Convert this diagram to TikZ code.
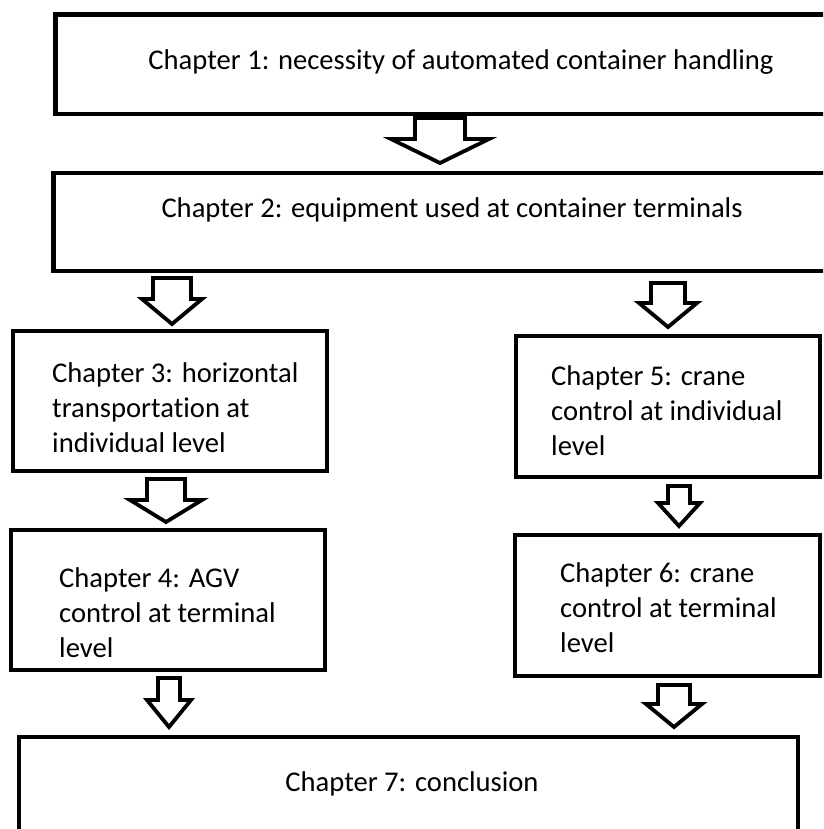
\documentclass[tikz,border=0pt]{standalone}
\usepackage{fontspec}
\setmainfont[Ligatures={NoCommon}]{Carlito}
\begin{document}
\begin{tikzpicture}[x=1pt,y=-1pt,
  box/.style={draw=black, line width=4.5pt, fill=none},
  arrowline/.style={draw=black, line width=3.8pt, line join=miter, fill=white},
  txt/.style={inner sep=0pt, font=\fontsize{28.6}{35}\selectfont},
  pics/barrow/.style args={#1/#2/#3/#4}{code={
    \draw[arrowline] (-#1,0) -- (-#1,#3) -- (-#2,#3) -- (0,#4) -- (#2,#3) -- (#1,#3) -- (#1,0) -- cycle;}}
]
\useasboundingbox (0,0) rectangle (823,829);
\clip (0,0) rectangle (823,829);
\fill[white] (0,0) rectangle (823,829);

% boxes
\draw[box] (55.5,14.5) rectangle (900,114) coordinate (b1);
\draw[box] (53.5,173) rectangle (900,271) coordinate (b2);
\draw[box] (13,331) rectangle (327,471) coordinate (b3);
\draw[box] (516,336) rectangle (820,477) coordinate (b5);
\draw[box] (11,530) rectangle (325,670) coordinate (b4);
\draw[box] (515,535) rectangle (820,676) coordinate (b6);
\draw[box] (19,737) rectangle (798,900) coordinate (b7);

% texts
\node[txt, anchor=base] (t1) at (461,70) {Chapter 1: necessity of automated container handling};
\node[txt, anchor=base] (t2) at (452,217) {Chapter 2: equipment used at container terminals};
\node[txt, anchor=base west] (t3) at (52,382) {\vtop{\hbox{Chapter 3: horizontal}\hbox{transportation at}\hbox{individual level}}};
\node[txt, anchor=base west] (t5) at (551,385) {\vtop{\hbox{Chapter 5: crane}\hbox{control at individual}\hbox{level}}};
\node[txt, anchor=base west] (t4) at (59,587) {\vtop{\hbox{Chapter 4: AGV}\hbox{control at terminal}\hbox{level}}};
\node[txt, anchor=base west] (t6) at (560,582) {\vtop{\hbox{Chapter 6: crane}\hbox{control at terminal}\hbox{level}}};
\node[txt, anchor=base] (t7) at (412,791) {Chapter 7: conclusion};

% block arrows
\pic at (440,118) {barrow={25/49/21/45}};
\pic at (172,278) {barrow={19/30/21/46}};
\pic at (668,283) {barrow={17/29/20/44}};
\pic at (166,479) {barrow={19/36/21/43}};
\pic at (679,486) {barrow={11/21/17/40}};
\pic at (169,678) {barrow={11/22/22/49}};
\pic at (674,685) {barrow={16/28/19/42}};
\end{tikzpicture}
\end{document}
